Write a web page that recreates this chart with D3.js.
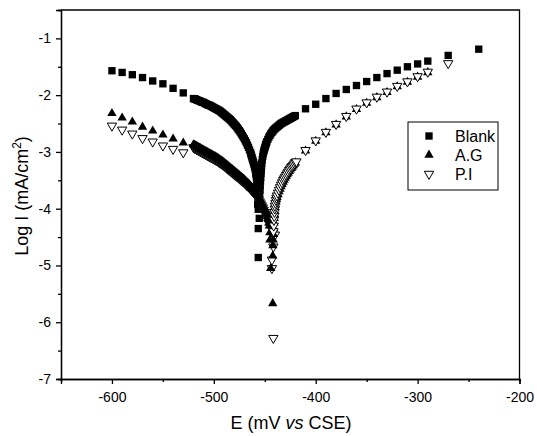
<!DOCTYPE html>
<html lang="en">
<head>
  <meta charset="UTF-8">
  <title>Tafel plot D3.js</title>
  <style>
    body { margin: 0; background: #fff; }
    svg { display: block; font-family: "Liberation Sans", Arial, sans-serif; }
    .domain, .tick line { stroke: #000; stroke-width: 1.3px; }
    .tick text { font-size: 14px; fill: #000; }
  </style>
</head>
<body>
  <svg id="chart" width="537" height="436"></svg>
  <script src="https://cdn.jsdelivr.net/npm/d3@7/dist/d3.min.js"></script>
  <script>
    // [E (mV vs CSE), log I]
    const blankCathodic = [
      [-600,-1.57],[-590,-1.60],[-580,-1.64],[-570,-1.69],[-560,-1.75],[-550,-1.80],[-540,-1.88],[-530,-1.96],
      [-520,-2.06],[-519,-2.065],[-518,-2.07],[-517,-2.08],[-516,-2.09],[-515,-2.095],[-514,-2.10],[-513,-2.11],
      [-512,-2.12],[-511,-2.125],[-510,-2.13],[-509,-2.14],[-508,-2.15],[-507,-2.16],[-506,-2.17],[-505,-2.175],
      [-504,-2.18],[-503,-2.19],[-502,-2.20],[-501,-2.21],[-500,-2.22],[-499,-2.23],[-498,-2.24],[-497,-2.25],
      [-496,-2.26],[-495,-2.27],[-494,-2.28],[-493,-2.295],[-492,-2.31],[-491,-2.325],[-490,-2.34],[-489,-2.355],
      [-488,-2.37],[-487,-2.385],[-486,-2.40],[-485,-2.415],[-484,-2.43],[-483,-2.45],[-482,-2.47],[-481,-2.49],
      [-480,-2.51],[-479,-2.53],[-478,-2.55],[-477,-2.575],[-476,-2.60],[-475,-2.625],[-474,-2.65],[-473,-2.68],
      [-472,-2.71],[-471,-2.74],[-470,-2.77],[-469,-2.805],[-468,-2.84],[-467,-2.88],[-466,-2.92],[-465,-2.965],
      [-464,-3.01],[-463.5,-3.04],[-463,-3.07],[-462.5,-3.10],[-462,-3.13],[-461.5,-3.16],[-461,-3.19],
      [-460.5,-3.225],[-460,-3.26],[-459.5,-3.30],[-459,-3.34],[-458.7,-3.37],[-458.5,-3.40],[-458.2,-3.44],
      [-458,-3.47],[-457.7,-3.51],[-457.5,-3.54],[-457.2,-3.58],[-457,-3.62],[-456.7,-3.67],[-456.5,-3.72],
      [-456.3,-3.82],[-457,-3.92],[-456.4,-4.01],[-455.4,-4.17],[-456.4,-4.35],[-456.4,-4.86]
    ];
    const blankAnodic = [
      [-455,-3.75],[-454.7,-3.67],[-454.5,-3.60],[-454.2,-3.52],[-454,-3.45],[-453.7,-3.38],[-453.5,-3.32],
      [-453.2,-3.26],[-453,-3.20],[-452.5,-3.14],[-452,-3.08],[-451.5,-3.03],[-451,-2.99],[-450.5,-2.96],
      [-450,-2.93],[-449.5,-2.90],[-449,-2.87],[-448.5,-2.845],[-448,-2.82],[-447,-2.78],[-446,-2.74],[-445,-2.71],
      [-444,-2.68],[-443,-2.655],[-442,-2.63],[-441,-2.61],[-440,-2.59],[-439,-2.575],[-438,-2.56],[-437,-2.545],
      [-436,-2.53],[-435,-2.515],[-434,-2.50],[-433,-2.49],[-432,-2.48],[-431,-2.47],[-430,-2.46],[-429,-2.45],
      [-428,-2.44],[-427,-2.43],[-426,-2.42],[-425,-2.41],[-424,-2.40],[-423,-2.39],[-422,-2.38],[-421,-2.37],
      [-420,-2.36],
      [-410,-2.24],[-400,-2.16],[-390,-2.06],[-380,-1.97],[-370,-1.90],[-360,-1.83],[-350,-1.76],[-340,-1.69],
      [-330,-1.62],[-320,-1.56],[-310,-1.50],[-300,-1.45],[-290,-1.40],[-270,-1.30],[-240,-1.19]
    ];
    const agCathodic = [
      [-600,-2.32],[-590,-2.40],[-580,-2.47],[-570,-2.56],[-560,-2.63],[-550,-2.70],[-540,-2.77],[-530,-2.84],
      [-520,-2.87],[-519,-2.88],[-518,-2.89],[-517,-2.90],[-516,-2.91],[-515,-2.92],[-514,-2.93],[-513,-2.94],
      [-512,-2.95],[-511,-2.96],[-510,-2.97],[-509,-2.98],[-508,-2.99],[-507,-3.00],[-506,-3.01],[-505,-3.02],
      [-504,-3.03],[-503,-3.04],[-502,-3.05],[-501,-3.06],[-500,-3.07],[-499,-3.08],[-498,-3.09],[-497,-3.10],
      [-496,-3.11],[-495,-3.125],[-494,-3.14],[-493,-3.15],[-492,-3.16],[-491,-3.175],[-490,-3.19],[-489,-3.205],
      [-488,-3.22],[-487,-3.235],[-486,-3.25],[-485,-3.265],[-484,-3.28],[-483,-3.295],[-482,-3.31],[-481,-3.325],
      [-480,-3.34],[-479,-3.355],[-478,-3.37],[-477,-3.385],[-476,-3.40],[-475,-3.415],[-474,-3.43],[-473,-3.445],
      [-472,-3.46],[-471,-3.475],[-470,-3.49],[-469,-3.51],[-468,-3.53],[-467,-3.545],[-466,-3.56],[-465,-3.58],
      [-464,-3.60],[-463,-3.62],[-462,-3.64],[-461,-3.66],[-460,-3.68],[-459,-3.705],[-458,-3.73],[-457,-3.76],
      [-456,-3.79],[-455,-3.825],[-454,-3.86],[-453,-3.895],[-452,-3.93],[-451,-3.97],[-450,-4.01],[-449,-4.05],
      [-448,-4.09],[-447.5,-4.14],[-447,-4.17],[-446.5,-4.19],[-446,-4.25],[-445.5,-4.30],[-445,-4.42],
      [-445,-4.55],[-442.2,-4.83],[-444.2,-5.05],[-442.2,-5.67]
    ];
    const agAnodic = [
      [-442,-4.65],[-441.7,-4.55],[-441.5,-4.45],[-441.2,-4.35],[-441,-4.25],[-440.7,-4.17],[-440.5,-4.10],
      [-440.2,-4.04],[-440,-3.98],[-439.5,-3.93],[-439,-3.88],[-438.5,-3.84],[-438,-3.80],[-437,-3.75],
      [-436,-3.70],[-435,-3.655],[-434,-3.61],[-433,-3.57],[-432,-3.53],[-431,-3.495],[-430,-3.46],[-429,-3.43],
      [-428,-3.40],[-427,-3.37],[-426,-3.34],[-425,-3.315],[-424,-3.29],[-423,-3.265],[-422,-3.24],[-421,-3.215],
      [-420,-3.19],
      [-410,-2.98],[-400,-2.81],[-390,-2.66],[-380,-2.52],[-370,-2.38],[-360,-2.25],[-350,-2.14],[-340,-2.04],
      [-330,-1.95],[-320,-1.85],[-310,-1.77],[-300,-1.68],[-290,-1.60]
    ];
    const piCathodic = [
      [-600,-2.54],[-590,-2.61],[-580,-2.68],[-570,-2.76],[-560,-2.82],[-550,-2.89],[-540,-2.95],[-530,-3.01],
      [-520,-2.92],[-519,-2.93],[-518,-2.94],[-517,-2.95],[-516,-2.96],[-515,-2.97],[-514,-2.98],[-513,-2.99],
      [-512,-3.00],[-511,-3.01],[-510,-3.02],[-509,-3.03],[-508,-3.04],[-507,-3.05],[-506,-3.06],[-505,-3.07],
      [-504,-3.08],[-503,-3.09],[-502,-3.10],[-501,-3.11],[-500,-3.12],[-499,-3.13],[-498,-3.14],[-497,-3.15],
      [-496,-3.16],[-495,-3.175],[-494,-3.19],[-493,-3.20],[-492,-3.21],[-491,-3.225],[-490,-3.24],[-489,-3.255],
      [-488,-3.27],[-487,-3.285],[-486,-3.30],[-485,-3.315],[-484,-3.33],[-483,-3.345],[-482,-3.36],[-481,-3.375],
      [-480,-3.39],[-479,-3.405],[-478,-3.42],[-477,-3.435],[-476,-3.45],[-475,-3.465],[-474,-3.48],[-473,-3.495],
      [-472,-3.51],[-471,-3.525],[-470,-3.54],[-469,-3.56],[-468,-3.58],[-467,-3.595],[-466,-3.61],[-465,-3.63],
      [-464,-3.65],[-463,-3.67],[-462,-3.69],[-461,-3.71],[-460,-3.73],[-459,-3.755],[-458,-3.78],[-457,-3.81],
      [-456,-3.84],[-455,-3.875],[-454,-3.91],[-453,-3.945],[-452,-3.98],[-451,-4.02],[-450,-4.06],[-449,-4.10],
      [-448,-4.14],[-447,-4.18],[-446,-4.22],[-445,-4.28],[-444.5,-4.33],
      [-440,-4.46],[-441.6,-4.67],[-443,-4.90],[-443,-5.05],[-441.6,-6.28]
    ];
    const piAnodic = [
      [-441.5,-4.40],[-441.2,-4.30],[-441,-4.20],[-440.7,-4.13],[-440.5,-4.06],[-440.2,-4.00],[-440,-3.95],
      [-439.5,-3.90],[-439,-3.85],[-438.5,-3.81],[-438,-3.77],[-437,-3.72],[-436,-3.67],[-435,-3.625],
      [-434,-3.58],[-433,-3.54],[-432,-3.50],[-431,-3.47],[-430,-3.44],[-429,-3.41],[-428,-3.38],[-427,-3.35],
      [-426,-3.32],[-425,-3.295],[-424,-3.27],[-423,-3.25],[-422,-3.23],[-421,-3.205],[-420,-3.18],[-419,-3.17],
      [-410,-2.97],[-400,-2.80],[-390,-2.65],[-380,-2.51],[-370,-2.37],[-360,-2.24],[-350,-2.13],[-340,-2.03],
      [-330,-1.94],[-320,-1.84],[-310,-1.76],[-300,-1.67],[-290,-1.59],[-270,-1.44]
    ];
    const seriesNames = ["Blank", "A.G", "P.I"];
    const xMajor = [-600, -500, -400, -300, -200];
    const xMinor = [-650, -550, -450, -350, -250];
    const yMajor = [-7, -6, -5, -4, -3, -2, -1];
    const yMinor = [-6.5, -5.5, -4.5, -3.5, -2.5, -1.5, -0.5];

    const svg = d3.select("#chart");
    const x = d3.scaleLinear().domain([-650, -200]).range([61, 519.5]);
    const y = d3.scaleLinear().domain([-7, -0.5]).range([379, 10]);

    // frame (top and right)
    svg.append("path")
      .attr("d", `M${x(-650)},${y(-0.5)}H${x(-200)}V${y(-7)}`)
      .attr("fill", "none").attr("stroke", "#000").attr("stroke-width", 1.3);

    const fmt = d => String(d);
    svg.append("g").attr("transform", `translate(0,${y(-7)})`)
      .call(d3.axisBottom(x).tickValues(xMinor).tickSize(3).tickFormat(""));
    svg.append("g").attr("transform", `translate(0,${y(-7)})`)
      .call(d3.axisBottom(x).tickValues(xMajor).tickSize(5).tickPadding(8).tickFormat(fmt));
    svg.append("g").attr("transform", `translate(${x(-650)},0)`)
      .call(d3.axisLeft(y).tickValues(yMinor).tickSize(3).tickFormat(""));
    svg.append("g").attr("transform", `translate(${x(-650)},0)`)
      .call(d3.axisLeft(y).tickValues(yMajor).tickSize(5).tickPadding(5).tickFormat(fmt));

    // axis titles
    const xt = svg.append("text")
      .attr("x", 291).attr("y", 429).attr("text-anchor", "middle")
      .attr("font-size", 18);
    xt.append("tspan").text("E (mV ");
    xt.append("tspan").attr("font-style", "italic").text("vs");
    xt.append("tspan").text(" CSE)");

    const yt = svg.append("text")
      .attr("transform", "translate(28,196) rotate(-90)")
      .attr("text-anchor", "middle").attr("font-size", 18);
    yt.append("tspan").text("Log I (mA/cm");
    yt.append("tspan").attr("font-size", 12).attr("dy", -7).text("2");
    yt.append("tspan").attr("dy", 7).text(")");

    // markers
    const square = d3.symbol(d3.symbolSquare, 54)();
    const tri = d3.symbol(d3.symbolTriangle, 38)();
    const at = d => `translate(${x(d[0])},${y(d[1])})`;

    function drawSquares(data) {
      svg.append("g").selectAll("path").data(data).join("path")
        .attr("d", square).attr("fill", "#000").attr("transform", at);
    }
    function drawUp(data) {
      svg.append("g").selectAll("path").data(data).join("path")
        .attr("d", tri).attr("fill", "#000").attr("transform", at);
    }
    function drawDown(data) {
      svg.append("g").selectAll("path").data(data).join("path")
        .attr("d", tri).attr("fill", "#fff").attr("stroke", "#000").attr("stroke-width", 1)
        .attr("transform", d => at(d) + " rotate(180)");
    }

    drawSquares(blankCathodic);
    drawSquares(blankAnodic);
    drawDown(piCathodic);
    drawUp(agCathodic);
    drawUp(agAnodic);
    drawDown(piAnodic);

    // legend
    const lg = svg.append("g").attr("transform", "translate(408,122)");
    lg.append("rect").attr("width", 90).attr("height", 68)
      .attr("fill", "#fff").attr("stroke", "#000").attr("stroke-width", 1);
    seriesNames.forEach((name, i) => {
      const cy = 14 + i * 19;
      const p = lg.append("path").attr("d", i === 0 ? square : tri);
      if (i < 2) p.attr("fill", "#000").attr("transform", `translate(21,${cy})`);
      else p.attr("fill", "#fff").attr("stroke", "#000")
        .attr("transform", `translate(21,${cy}) rotate(180)`);
      lg.append("text").attr("x", 47).attr("y", cy).attr("dy", "0.35em")
        .attr("font-size", 16).text(name);
    });
  </script>
</body>
</html>
